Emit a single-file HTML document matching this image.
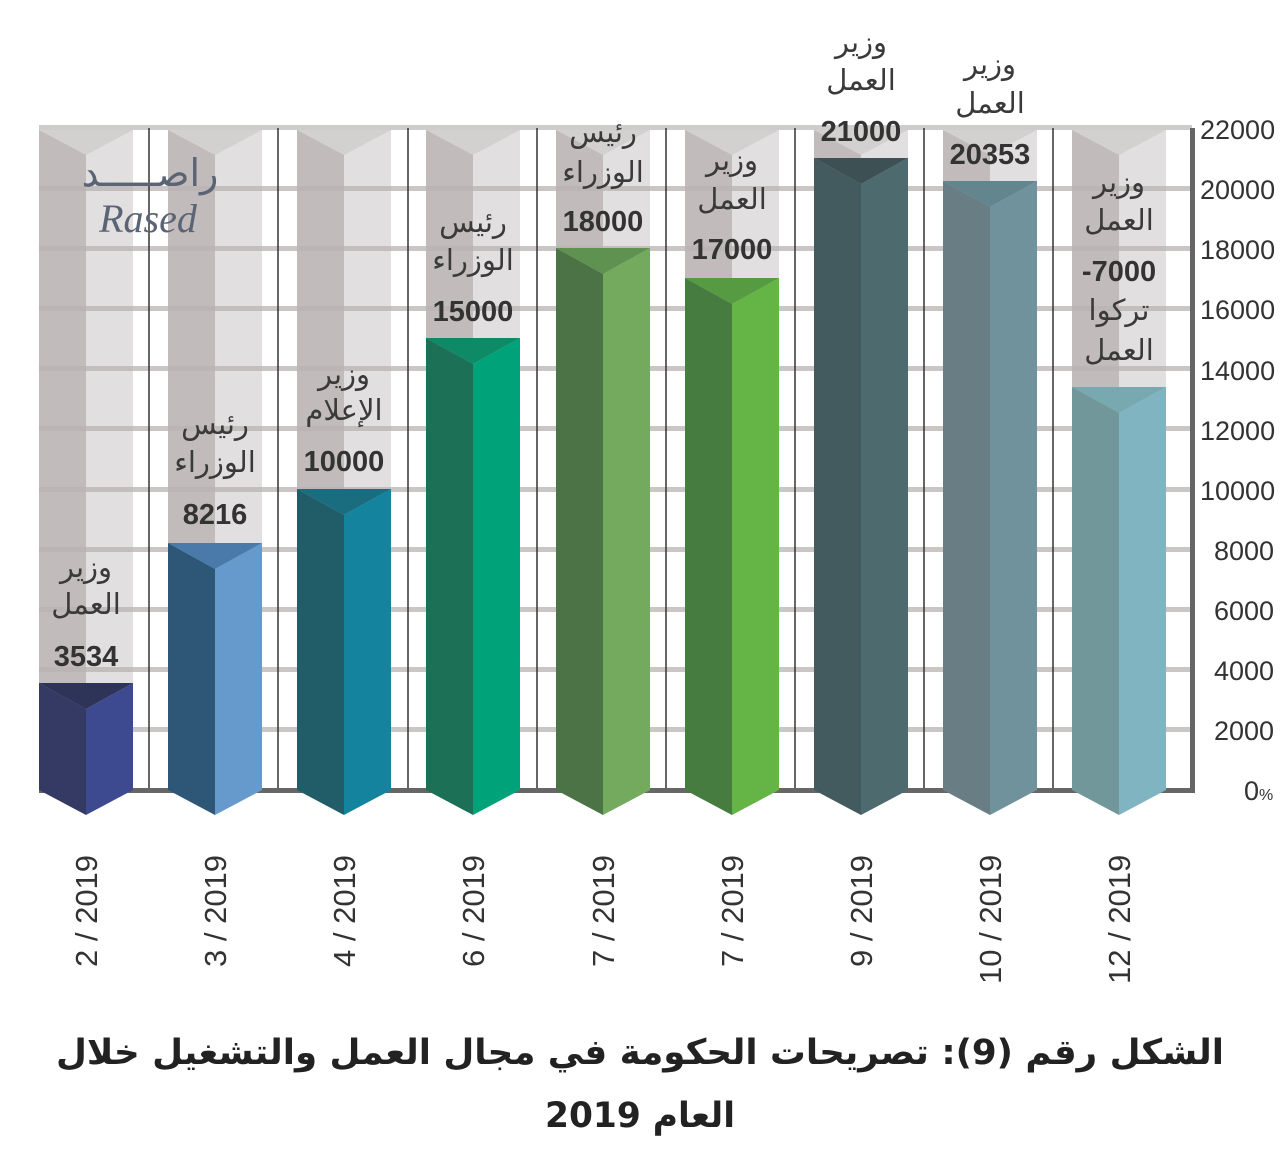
<!DOCTYPE html>
<html><head><meta charset="utf-8"><style>
html,body{margin:0;padding:0;background:#fff;}
svg{display:block}
.lb{font-family:"DejaVu Sans","Liberation Sans",sans-serif;font-size:29px;fill:#3a3a3a;text-anchor:middle}
.v{font-family:"Liberation Sans",sans-serif;font-size:29px;font-weight:bold;fill:#333;text-anchor:middle}
.y{font-family:"Liberation Sans",sans-serif;font-size:27px;fill:#333;text-anchor:start}
.x{font-family:"Liberation Sans",sans-serif;font-size:31px;fill:#333}
</style></head><body>
<svg width="1280" height="1160" viewBox="0 0 1280 1160" xmlns="http://www.w3.org/2000/svg">
<g>
<rect x="39" y="128" width="47" height="662" fill="#c1bcbb"/><rect x="86" y="128" width="47" height="662" fill="#e1dfdf"/>
<rect x="168" y="128" width="47" height="662" fill="#c1bcbb"/><rect x="215" y="128" width="47" height="662" fill="#e1dfdf"/>
<rect x="297" y="128" width="47" height="662" fill="#c1bcbb"/><rect x="344" y="128" width="47" height="662" fill="#e1dfdf"/>
<rect x="426" y="128" width="47" height="662" fill="#c1bcbb"/><rect x="473" y="128" width="47" height="662" fill="#e1dfdf"/>
<rect x="556" y="128" width="47" height="662" fill="#c1bcbb"/><rect x="603" y="128" width="47" height="662" fill="#e1dfdf"/>
<rect x="685" y="128" width="47" height="662" fill="#c1bcbb"/><rect x="732" y="128" width="47" height="662" fill="#e1dfdf"/>
<rect x="814" y="128" width="47" height="662" fill="#c1bcbb"/><rect x="861" y="128" width="47" height="662" fill="#e1dfdf"/>
<rect x="943" y="128" width="47" height="662" fill="#c1bcbb"/><rect x="990" y="128" width="47" height="662" fill="#e1dfdf"/>
<rect x="1072" y="128" width="47" height="662" fill="#c1bcbb"/><rect x="1119" y="128" width="47" height="662" fill="#e1dfdf"/>
</g>
<g fill="#b9b4b3" opacity="0.75">
<rect x="39" y="727" width="1153" height="5"/><rect x="39" y="667" width="1153" height="5"/>
<rect x="39" y="607" width="1153" height="5"/><rect x="39" y="547" width="1153" height="5"/>
<rect x="39" y="487" width="1153" height="5"/><rect x="39" y="426" width="1153" height="5"/>
<rect x="39" y="366" width="1153" height="5"/><rect x="39" y="306" width="1153" height="5"/>
<rect x="39" y="246" width="1153" height="5"/><rect x="39" y="186" width="1153" height="5"/>
</g>
<rect x="39" y="125" width="1153" height="5" fill="#cfcccc"/>
<g stroke="#333" stroke-width="1.5">
<line x1="149" y1="128" x2="149" y2="790"/><line x1="278" y1="128" x2="278" y2="790"/>
<line x1="408" y1="128" x2="408" y2="790"/><line x1="537" y1="128" x2="537" y2="790"/>
<line x1="666" y1="128" x2="666" y2="790"/><line x1="795" y1="128" x2="795" y2="790"/>
<line x1="924" y1="128" x2="924" y2="790"/><line x1="1053" y1="128" x2="1053" y2="790"/>
</g>
<g fill="#d3d0d0">
<polygon points="39,130 133,130 86,155"/><polygon points="168,130 262,130 215,155"/><polygon points="297,130 391,130 344,155"/>
<polygon points="426,130 520,130 473,155"/><polygon points="556,130 650,130 603,155"/><polygon points="685,130 779,130 732,155"/>
<polygon points="814,130 908,130 861,155"/><polygon points="943,130 1037,130 990,155"/><polygon points="1072,130 1166,130 1119,155"/>
</g>
<rect x="39" y="788" width="1156" height="5" fill="#666"/>
<rect x="1190" y="128" width="5" height="665" fill="#666"/>
<g>
<polygon points="39,683 86,709 86,815 39,790" fill="#343a64"/><polygon points="86,709 133,683 133,790 86,815" fill="#3d4a8f"/><polygon points="39,683 133,683 86,709" fill="#2e3358"/>
<polygon points="168,543 215,569 215,815 168,790" fill="#2e5777"/><polygon points="215,569 262,543 262,790 215,815" fill="#6699cc"/><polygon points="168,543 262,543 215,569" fill="#4a7aaa"/>
<polygon points="297,489 344,515 344,815 297,790" fill="#215c69"/><polygon points="344,515 391,489 391,790 344,815" fill="#14839d"/><polygon points="297,489 391,489 344,515" fill="#1a6d7f"/>
<polygon points="426,338 473,364 473,815 426,790" fill="#1c7056"/><polygon points="473,364 520,338 520,790 473,815" fill="#00a27a"/><polygon points="426,338 520,338 473,364" fill="#0e8a66"/>
<polygon points="556,248 603,274 603,815 556,790" fill="#4c7346"/><polygon points="603,274 650,248 650,790 603,815" fill="#74aa5e"/><polygon points="556,248 650,248 603,274" fill="#5f9150"/>
<polygon points="685,278 732,304 732,815 685,790" fill="#467c40"/><polygon points="732,304 779,278 779,790 732,815" fill="#65b446"/><polygon points="685,278 779,278 732,304" fill="#569a42"/>
<polygon points="814,158 861,184 861,815 814,790" fill="#435a5e"/><polygon points="861,184 908,158 908,790 861,815" fill="#4d6a6f"/><polygon points="814,158 908,158 861,184" fill="#3d5155"/>
<polygon points="943,181 990,207 990,815 943,790" fill="#687e84"/><polygon points="990,207 1037,181 1037,790 990,815" fill="#6f929c"/><polygon points="943,181 1037,181 990,207" fill="#62858e"/>
<polygon points="1072,387 1119,413 1119,815 1072,790" fill="#71979a"/><polygon points="1119,413 1166,387 1166,790 1119,815" fill="#80b4c0"/><polygon points="1072,387 1166,387 1119,413" fill="#78a8b0"/>
</g>
<text x="150" y="186" font-family="DejaVu Sans,sans-serif" font-size="38" fill="#5a6474" text-anchor="middle">راصـــــد</text>
<text x="148" y="232" font-family="Liberation Serif,serif" font-style="italic" font-size="40" fill="#5a6474" text-anchor="middle">Rased</text>
<text class="lb" x="86" y="577">وزير</text><text class="lb" x="86" y="614">العمل</text><text class="v" x="86" y="666">3534</text>
<text class="lb" x="215" y="434">رئيس</text><text class="lb" x="215" y="472">الوزراء</text><text class="v" x="215" y="524">8216</text>
<text class="lb" x="344" y="384">وزير</text><text class="lb" x="344" y="420">الإعلام</text><text class="v" x="344" y="471">10000</text>
<text class="lb" x="473" y="232">رئيس</text><text class="lb" x="473" y="270">الوزراء</text><text class="v" x="473" y="321">15000</text>
<text class="lb" x="603" y="142">رئيس</text><text class="lb" x="603" y="182">الوزراء</text><text class="v" x="603" y="231">18000</text>
<text class="lb" x="732" y="170">وزير</text><text class="lb" x="732" y="209">العمل</text><text class="v" x="732" y="259">17000</text>
<text class="lb" x="861" y="52">وزير</text><text class="lb" x="861" y="90">العمل</text><text class="v" x="861" y="141">21000</text>
<text class="lb" x="990" y="74">وزير</text><text class="lb" x="990" y="113">العمل</text><text class="v" x="990" y="164">20353</text>
<text class="lb" x="1119" y="192">وزير</text><text class="lb" x="1119" y="230">العمل</text><text class="v" x="1119" y="281" direction="ltr" unicode-bidi="embed">-7000</text><text class="lb" x="1119" y="320">تركوا</text><text class="lb" x="1119" y="360">العمل</text>
<g>
<text class="y" x="1200" y="139">22000</text><text class="y" x="1200" y="199">20000</text><text class="y" x="1200" y="259">18000</text>
<text class="y" x="1200" y="319">16000</text><text class="y" x="1200" y="380">14000</text><text class="y" x="1200" y="440">12000</text>
<text class="y" x="1200" y="500">10000</text><text class="y" x="1214" y="560">8000</text><text class="y" x="1214" y="620">6000</text>
<text class="y" x="1214" y="680">4000</text><text class="y" x="1214" y="740">2000</text><text class="y" x="1244" y="800">0<tspan font-size="16">%</tspan></text>
</g>
<text class="x" transform="translate(97,967) rotate(-90)">2 / 2019</text>
<text class="x" transform="translate(226,967) rotate(-90)">3 / 2019</text>
<text class="x" transform="translate(355,967) rotate(-90)">4 / 2019</text>
<text class="x" transform="translate(484,967) rotate(-90)">6 / 2019</text>
<text class="x" transform="translate(614,967) rotate(-90)">7 / 2019</text>
<text class="x" transform="translate(743,967) rotate(-90)">7 / 2019</text>
<text class="x" transform="translate(872,967) rotate(-90)">9 / 2019</text>
<text class="x" transform="translate(1001,984) rotate(-90)">10 / 2019</text>
<text class="x" transform="translate(1130,984) rotate(-90)">12 / 2019</text>
<text x="640" y="1064" font-family="DejaVu Sans,sans-serif" font-size="35" font-weight="bold" fill="#222" text-anchor="middle" direction="rtl" textLength="1168" lengthAdjust="spacingAndGlyphs">الشكل رقم (9): تصريحات الحكومة في مجال العمل والتشغيل خلال</text>
<text x="640" y="1127" font-family="DejaVu Sans,sans-serif" font-size="35" font-weight="bold" fill="#222" text-anchor="middle" direction="rtl" textLength="190" lengthAdjust="spacingAndGlyphs">العام 2019</text>
</svg>
</body></html>
